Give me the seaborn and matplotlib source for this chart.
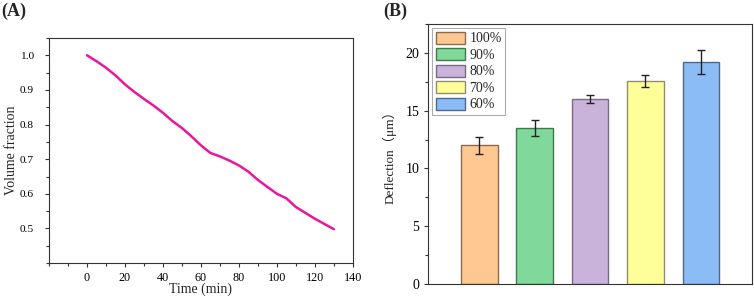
import numpy as np
import pandas as pd
import matplotlib
matplotlib.use("Agg")
import matplotlib.pyplot as plt
import seaborn as sns
from matplotlib.ticker import MultipleLocator
from matplotlib.patches import Patch

# ---- data ----
time_min = [0, 5, 10, 15, 20, 25, 30, 35, 40, 45, 50, 55, 60, 65, 70, 75, 80, 85, 90, 95, 100, 105, 110, 115, 120, 125, 130]
volume_fraction = [1.0, 0.983, 0.964, 0.942, 0.916, 0.894, 0.874, 0.855, 0.834, 0.810, 0.790, 0.766, 0.740, 0.718, 0.708, 0.696, 0.682, 0.664, 0.640, 0.620, 0.600, 0.587, 0.562, 0.545, 0.528, 0.513, 0.498]

categories = ["100%", "90%", "80%", "70%", "60%"]
deflection = [12.0, 13.5, 16.0, 17.57, 19.22]
deflection_err = [0.72, 0.66, 0.36, 0.49, 1.02]
bar_colors = ["#FDC891", "#80D99B", "#C9B3DB", "#FFFF99", "#8CBCF5"]
edge_colors = ["#8C6A4A", "#3E7A4E", "#7A6A85", "#8F8F70", "#4A6A8F"]

sns.set_style("ticks")
plt.rcParams["font.family"] = ["Liberation Serif", "Noto Sans CJK SC", "DejaVu Sans"]

fig = plt.figure(figsize=(7.54, 2.99), dpi=100)
axA = fig.add_axes([0.065, 0.120, 0.403, 0.753])
axB = fig.add_axes([0.568, 0.050, 0.429, 0.870])

# ---- panel A ----
dfA = pd.DataFrame({"Time": time_min, "Volume": volume_fraction})
sns.lineplot(data=dfA, x="Time", y="Volume", ax=axA, color="#E8179D", linewidth=1.8)
axA.set_xlim(-20, 140)
axA.set_ylim(0.4, 1.05)
axA.set_xticks([0, 20, 40, 60, 80, 100, 120, 140])
axA.xaxis.set_minor_locator(MultipleLocator(10))
axA.set_yticks([0.5, 0.6, 0.7, 0.8, 0.9, 1.0])
axA.yaxis.set_minor_locator(MultipleLocator(0.05))
axA.set_xlabel("Time (min)", fontsize=10, labelpad=-1)
axA.set_ylabel("Volume fraction", fontsize=10, labelpad=1)
axA.tick_params(axis="x", which="major", labelsize=8.7, length=3, width=0.8, direction="out", colors="#333333", labelcolor="black")
axA.tick_params(axis="y", which="major", labelsize=8.2, pad=8, length=3, width=0.8, direction="out", colors="#333333", labelcolor="black")
axA.tick_params(axis="both", which="minor", length=2, width=0.8, direction="out", colors="#333333")
for s in axA.spines.values():
    s.set_linewidth(0.8)
    s.set_color("#333333")

# ---- panel B ----
dfB = pd.DataFrame({"cat": categories, "val": deflection})
sns.barplot(data=dfB, x="cat", y="val", hue="cat", palette=bar_colors, ax=axB,
            width=0.66, legend=False, errorbar=None, linewidth=1.0, saturation=1)
for patch, ec in zip(axB.patches, edge_colors):
    patch.set_edgecolor(ec)
axB.errorbar(range(len(categories)), deflection, yerr=deflection_err, fmt="none",
             ecolor="#222222", elinewidth=1.0, capsize=3, capthick=1.0)
axB.set_xlim(-0.92, 4.92)
axB.set_ylim(0, 22.5)
axB.set_yticks([0, 5, 10, 15, 20])
axB.yaxis.set_minor_locator(MultipleLocator(2.5))
axB.set_xticks([])
axB.set_xlabel("")
axB.set_ylabel("Deflection（μm）", fontsize=9.5, labelpad=6)
axB.tick_params(axis="y", which="major", labelsize=10, length=3, width=0.8, direction="out", colors="#333333", labelcolor="black")
axB.tick_params(axis="y", which="minor", length=2, width=0.8, direction="out", colors="#333333")
for s in axB.spines.values():
    s.set_linewidth(0.8)
    s.set_color("#333333")

handles = [Patch(facecolor=c, edgecolor=e, linewidth=1.0) for c, e in zip(bar_colors, edge_colors)]
leg = axB.legend(handles, categories, loc="upper left", fontsize=10, frameon=True,
                 fancybox=False, handlelength=2.1, handleheight=0.95, handletextpad=0.3,
                 labelspacing=0.2, borderpad=0.25, borderaxespad=0.3)
leg.get_frame().set_edgecolor("#999999")
leg.get_frame().set_linewidth(0.8)

fig.text(0.002, 0.99, "(A)", fontsize=13, fontweight="bold", ha="left", va="top")
fig.text(0.508, 0.99, "(B)", fontsize=13, fontweight="bold", ha="left", va="top")

fig.savefig("out.png", dpi=100)
